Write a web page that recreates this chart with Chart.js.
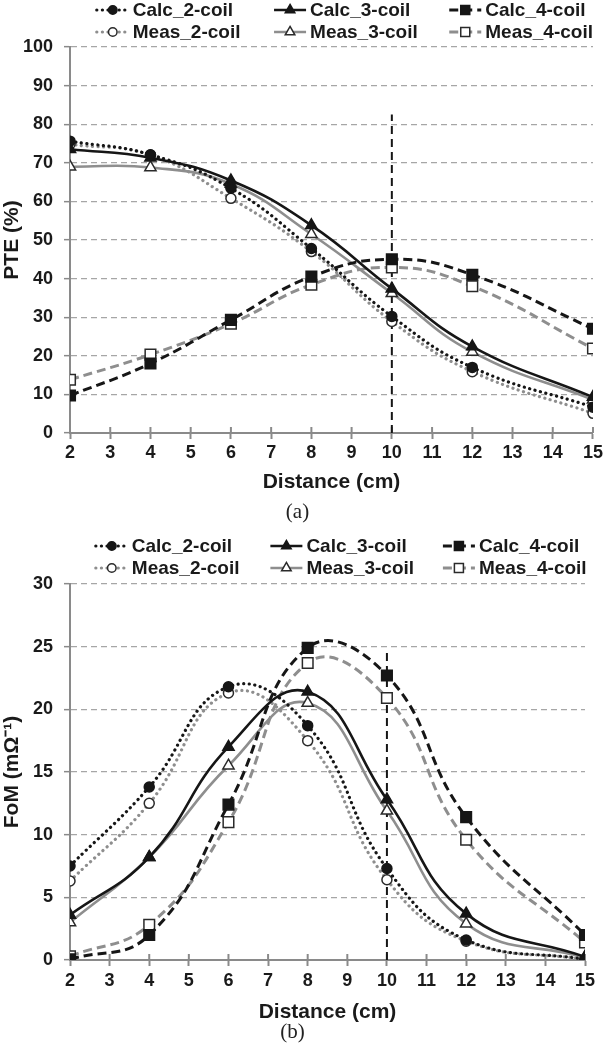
<!DOCTYPE html>
<html>
<head>
<meta charset="utf-8">
<script src="https://cdn.jsdelivr.net/npm/chart.js@4"></script>
<style>
  body { margin: 0; background: #fff; }
  .panel { position: relative; width: 606px; }
</style>
</head>
<body>
<div class="panel" style="height:536px"><canvas id="pteChart"></canvas></div>
<div class="panel" style="height:514px"><canvas id="fomChart"></canvas></div>
<script>
// distances (cm) where the coils were measured
const distance = [2, 4, 6, 8, 10, 12, 15];
const seriesNames = ['Calc_2-coil', 'Calc_3-coil', 'Calc_4-coil', 'Meas_2-coil', 'Meas_3-coil', 'Meas_4-coil'];

// PTE (%)
const pteCalc2 = [75.6, 72.1, 63.4, 47.8, 30.2, 17.0, 6.7];
const pteCalc3 = [73.5, 71.3, 65.4, 53.8, 37.4, 22.4, 9.3];
const pteCalc4 = [9.7, 18.0, 29.3, 40.5, 45.0, 41.0, 27.0];
const pteMeas2 = [74.8, 72.0, 60.8, 47.0, 28.9, 15.9, 5.1];
const pteMeas3 = [69.0, 68.8, 64.5, 51.5, 36.2, 21.0, 8.6];
const pteMeas4 = [13.8, 20.3, 28.3, 38.4, 42.9, 38.0, 21.9];

// FoM (mOhm^-1)
const fomCalc2 = [7.5, 13.8, 21.8, 18.7, 7.3, 1.6, 0.05];
const fomCalc3 = [3.6, 8.2, 17.0, 21.4, 12.8, 3.7, 0.25];
const fomCalc4 = [0.05, 2.0, 12.4, 24.9, 22.7, 11.4, 2.0];
const fomMeas2 = [6.3, 12.5, 21.3, 17.5, 6.4, 1.5, 0.05];
const fomMeas3 = [3.0, 8.2, 15.5, 20.5, 11.9, 2.9, 0.2];
const fomMeas4 = [0.3, 2.8, 11.0, 23.7, 20.9, 9.6, 1.4];

// vertical marker at 10 cm
const markerX = 10;
const pteMarkerTop = 82.5;
const fomMarkerTop = 24.8;

const BLACK = '#161616';
const GREY = '#8e8e8e';
const AXIS = '#8a8a8a';
const sansFont = '"Liberation Sans", Arial, sans-serif';

const styles = [
    { color: BLACK, dash: [0.1, 5.5], width: 3.2, cap: 'round', shape: 'circle', filled: true, r: 5 },
    { color: BLACK, dash: [], width: 2.6, cap: 'butt', shape: 'triangle', filled: true, r: 6.5 },
    { color: BLACK, dash: [9, 5], width: 3, cap: 'butt', shape: 'rect', filled: true, r: 7.5 },
    { color: GREY, dash: [0.1, 5.5], width: 3.2, cap: 'round', shape: 'circle', filled: false, r: 5 },
    { color: GREY, dash: [], width: 2.6, cap: 'butt', shape: 'triangle', filled: false, r: 6.5 },
    { color: GREY, dash: [9, 5], width: 3, cap: 'butt', shape: 'rect', filled: false, r: 7.5 }
];

function drawMarker(ctx, shape, x, y, r) {
    ctx.beginPath();
    if (shape === 'circle') {
        ctx.arc(x, y, r, 0, Math.PI * 2);
    } else if (shape === 'triangle') {
        ctx.moveTo(x, y - r);
        ctx.lineTo(x + r * 0.866, y + r * 0.5);
        ctx.lineTo(x - r * 0.866, y + r * 0.5);
        ctx.closePath();
    } else {
        const s = r * Math.SQRT1_2;
        ctx.rect(x - s, y - s, 2 * s, 2 * s);
    }
    ctx.fill();
    ctx.stroke();
}

// Excel-like legend (3 columns x 2 rows) and crossing x ticks
const excelExtras = {
    id: 'excelExtras',
    beforeDatasetsDraw(chart) {
        const ctx = chart.ctx;
        const xs = chart.scales.x;
        const y0 = chart.chartArea.bottom;
        ctx.save();
        ctx.strokeStyle = AXIS;
        ctx.lineWidth = 2;
        xs.ticks.forEach(t => {
            const px = xs.getPixelForValue(t.value);
            ctx.beginPath();
            ctx.moveTo(px, y0 - 6);
            ctx.lineTo(px, y0);
            ctx.stroke();
        });
        ctx.restore();
    },
    afterDraw(chart) {
        const ctx = chart.ctx;
        const area = chart.chartArea;
        const cols = [0.12, 0.459, 0.794];
        const rows = [10, 32];
        ctx.save();
        ctx.font = 'bold 19px ' + sansFont;
        ctx.textBaseline = 'middle';
        ctx.fillStyle = '#1a1a1a';
        seriesNames.forEach((name, i) => {
            const st = styles[i];
            const tx = area.left + cols[i % 3] * (area.right - area.left);
            const ty = rows[Math.floor(i / 3)];
            ctx.save();
            ctx.strokeStyle = st.color;
            ctx.lineWidth = st.width;
            ctx.lineCap = st.cap;
            ctx.setLineDash(st.dash);
            ctx.beginPath();
            ctx.moveTo(tx - 36, ty);
            ctx.lineTo(tx - 4, ty);
            ctx.stroke();
            ctx.setLineDash([]);
            ctx.lineWidth = 1.5;
            ctx.strokeStyle = st.filled ? BLACK : '#2a2a2a';
            ctx.fillStyle = st.filled ? BLACK : '#fff';
            drawMarker(ctx, st.shape, tx - 20, ty, st.r * 0.85);
            ctx.restore();
            ctx.fillText(name, tx, ty + 1);
        });
        ctx.restore();
    }
};

function buildDatasets(seriesValues, markerTop) {
    const sets = seriesValues.map((vals, i) => {
        const st = styles[i];
        return {
            label: seriesNames[i],
            data: distance.map((d, j) => ({ x: d, y: vals[j] })),
            borderColor: st.color,
            borderWidth: st.width,
            borderDash: st.dash,
            borderCapStyle: st.cap,
            tension: 0.45,
            pointStyle: st.shape,
            pointRadius: st.r,
            pointBorderWidth: 1.5,
            pointBorderColor: st.filled ? BLACK : '#2a2a2a',
            pointBackgroundColor: st.filled ? BLACK : '#ffffff'
        };
    });
    sets.push({
        label: 'marker',
        data: [{ x: markerX, y: 0 }, { x: markerX, y: markerTop }],
        borderColor: BLACK,
        borderWidth: 2,
        borderDash: [8, 5],
        pointRadius: 0,
        tension: 0
    });
    return sets;
}

function makeChart(id, cfg) {
    new Chart(document.getElementById(id).getContext('2d'), {
        type: 'line',
        data: { datasets: buildDatasets(cfg.series, cfg.markerTop) },
        options: {
            responsive: true,
            maintainAspectRatio: false,
            animation: false,
            layout: { padding: { top: cfg.padTop, right: cfg.padRight, bottom: cfg.padBottom, left: 0 } },
            plugins: {
                legend: { display: false },
                tooltip: { enabled: false },
                title: {
                    display: true,
                    position: 'bottom',
                    text: cfg.caption,
                    color: '#222',
                    font: { family: '"Liberation Serif", "Times New Roman", serif', size: 21, weight: 'normal' },
                    padding: { top: cfg.captionPad, bottom: 0 }
                }
            },
            scales: {
                x: {
                    type: 'linear',
                    min: 2,
                    max: 15,
                    ticks: { stepSize: 1, padding: cfg.xTickPad, color: '#1a1a1a', font: { family: sansFont, size: 18, weight: 'bold' } },
                    grid: { drawOnChartArea: false, tickLength: 6, tickColor: AXIS, tickWidth: 2 },
                    border: { color: AXIS, width: 2 },
                    title: {
                        display: true,
                        text: 'Distance (cm)',
                        color: '#1a1a1a',
                        font: { family: sansFont, size: 21, weight: 'bold' },
                        padding: { top: cfg.xTitlePad, bottom: 0 }
                    }
                },
                y: {
                    min: 0,
                    max: cfg.yMax,
                    afterFit(scale) { scale.width = 70; },
                    ticks: { stepSize: cfg.yStep, padding: 11, color: '#1a1a1a', font: { family: sansFont, size: 18, weight: 'bold' } },
                    grid: { color: '#a6a6a6', lineWidth: 1.3, tickLength: 6, tickColor: AXIS, tickWidth: 1.5 },
                    border: { color: AXIS, width: 2, dash: [6, 4] },
                    title: {
                        display: true,
                        text: cfg.yTitle,
                        color: '#1a1a1a',
                        font: { family: sansFont, size: 21, weight: 'bold' },
                        padding: 0
                    }
                }
            }
        },
        plugins: [excelExtras]
    });
}

makeChart('pteChart', {
    series: [pteCalc2, pteCalc3, pteCalc4, pteMeas2, pteMeas3, pteMeas4],
    markerTop: pteMarkerTop,
    yMax: 100, yStep: 10, yTitle: 'PTE (%)', caption: '(a)',
    padTop: 47, padRight: 11, padBottom: 11.4,
    captionPad: 4.6, xTickPad: 3, xTitlePad: 3
});

makeChart('fomChart', {
    series: [fomCalc2, fomCalc3, fomCalc4, fomMeas2, fomMeas3, fomMeas4],
    markerTop: fomMarkerTop,
    yMax: 30, yStep: 5, yTitle: 'FoM (mΩ⁻¹)', caption: '(b)',
    padTop: 48, padRight: 21, padBottom: 5.4,
    captionPad: -5.2, xTickPad: 4, xTitlePad: 3.8
});
</script>
</body>
</html>
